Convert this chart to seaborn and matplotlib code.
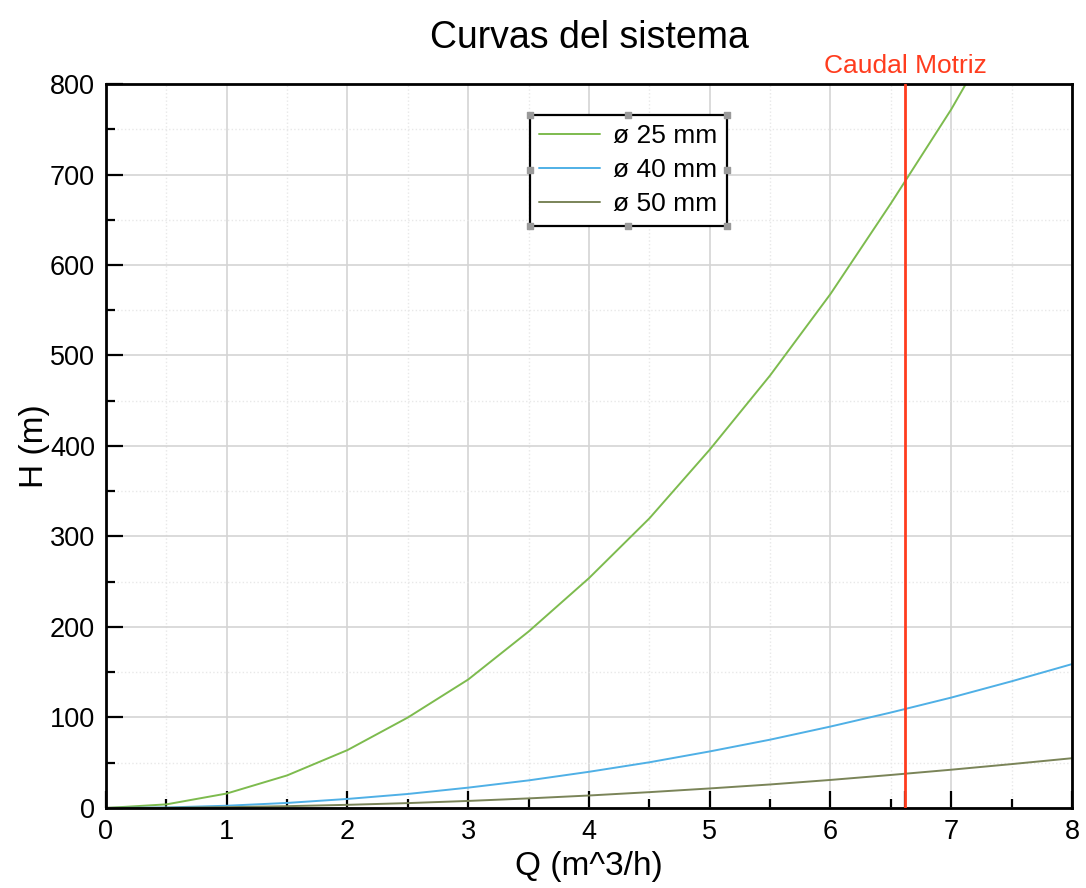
import numpy as np
import pandas as pd
import matplotlib
matplotlib.use("Agg")
import matplotlib.pyplot as plt
import seaborn as sns
from matplotlib.ticker import FixedLocator, MultipleLocator

# caudal (m^3/h)
caudal = [0, 0.5, 1, 1.5, 2, 2.5, 3, 3.5, 4, 4.5, 5, 5.5, 6, 6.5, 7, 7.5, 8]
# altura (m) por diametro
h_25 = [0, 4, 16, 36, 64, 100, 142, 195, 254, 320, 396, 478, 568, 668, 772, 888, 1010]
h_40 = [0, 0.6, 2.5, 5.6, 10, 15.5, 22.5, 30.5, 40, 50.5, 62.5, 75.5, 90, 105.5, 122, 140, 159]
h_50 = [0, 0.2, 0.9, 2, 3.5, 5.4, 7.8, 10.6, 13.8, 17.5, 21.6, 26, 31, 36.5, 42.3, 48.5, 55]
etiquetas = ["ø 25 mm", "ø 40 mm", "ø 50 mm"]
colores = ["#7dbb4e", "#4fb0e6", "#7a8458"]
caudal_motriz = 6.62

df = pd.DataFrame({
    "Q": caudal * 3,
    "H": h_25 + h_40 + h_50,
    "serie": [etiquetas[0]] * len(caudal) + [etiquetas[1]] * len(caudal) + [etiquetas[2]] * len(caudal),
})

sns.set_style("whitegrid")
plt.rcParams["font.family"] = ["Liberation Sans", "DejaVu Sans"]
plt.rcParams["text.color"] = "black"
plt.rcParams["axes.labelcolor"] = "black"
plt.rcParams["xtick.color"] = "black"
plt.rcParams["ytick.color"] = "black"

fig = plt.figure(figsize=(10.86, 8.88), dpi=100)
ax = fig.add_axes([0.0976, 0.0901, 0.8895, 0.8153])

sns.lineplot(data=df, x="Q", y="H", hue="serie", palette=colores, linewidth=1.4,
             ax=ax, sort=False)

ax.axvline(caudal_motriz, color="#ff3c1e", linewidth=2, zorder=5)
ax.text(caudal_motriz, 807, "Caudal Motriz", color="#ff3c1e", fontsize=19,
        ha="center", va="bottom")

ax.set_xlim(0, 8)
ax.set_ylim(0, 800)

# ticks (la marca en el caudal motriz va sin etiqueta)
xmaj = [0, 1, 2, 3, 4, 5, 6, caudal_motriz, 7, 8]
ax.xaxis.set_major_locator(FixedLocator(xmaj))
ax.set_xticklabels([str(int(v)) if float(v).is_integer() else "" for v in xmaj])
ax.xaxis.set_minor_locator(FixedLocator([0.5, 1.5, 2.5, 3.5, 4.5, 5.5, 6.5, 7.5]))
ax.yaxis.set_major_locator(MultipleLocator(100))
ax.yaxis.set_minor_locator(MultipleLocator(50))
ax.tick_params(which="major", direction="in", length=12, width=1.6, labelsize=19.5,
               color="black", bottom=True, left=True, top=False, right=False, pad=8)
ax.tick_params(which="minor", direction="in", length=6.5, width=1.6,
               color="black", bottom=True, left=True, top=False, right=False)

ax.grid(True, which="major", color="#d4d4d4", linewidth=1.2, linestyle="-")
ax.grid(True, which="minor", color="#e8e8e8", linewidth=1.0, linestyle=":")
ax.xaxis.get_gridlines()[7].set_visible(False)
ax.set_axisbelow(True)

for s in ax.spines.values():
    s.set_color("black")
    s.set_linewidth(2)

ax.set_xlabel("Q (m^3/h)", fontsize=24, labelpad=4)
ax.set_ylabel("H (m)", fontsize=24, labelpad=0)
ax.set_title("Curvas del sistema", fontsize=27, pad=26)

leg = ax.legend(loc="upper left", bbox_to_anchor=(0.439, 0.957), borderaxespad=0,
                fontsize=19, handlelength=2.3, frameon=True, fancybox=False,
                edgecolor="black", framealpha=1, borderpad=0.35, labelspacing=0.38,
                handletextpad=0.5)
leg.get_frame().set_linewidth(1.6)
leg.get_frame().set_boxstyle("square", pad=0)

# marcadores de seleccion alrededor de la leyenda
fig.canvas.draw()
bb = leg.get_window_extent().transformed(ax.transAxes.inverted())
xs = [bb.x0, (bb.x0 + bb.x1) / 2, bb.x1]
ys = [bb.y0, (bb.y0 + bb.y1) / 2, bb.y1]
px, py = [], []
for xx in xs:
    for yy in ys:
        if xx == xs[1] and yy == ys[1]:
            continue
        px.append(xx)
        py.append(yy)
ax.scatter(px, py, s=14, marker="s", color="#9a9a9a", transform=ax.transAxes,
           clip_on=False, zorder=10)

fig.savefig("out.png", dpi=100)
